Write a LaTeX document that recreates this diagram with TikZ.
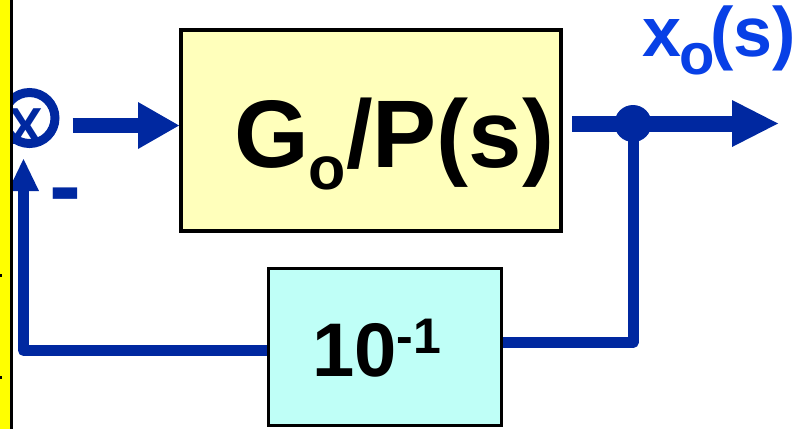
\documentclass[tikz,border=0pt]{standalone}
\usepackage{fontspec}
\setmainfont{Liberation Sans}
\usetikzlibrary{arrows.meta}
\definecolor{flowblue}{RGB}{0,40,160}
\definecolor{labelblue}{RGB}{8,64,230}
\definecolor{plantfill}{RGB}{255,255,187}
\definecolor{gainfill}{RGB}{191,255,247}
\definecolor{stripyellow}{RGB}{255,255,0}
\begin{document}
\begin{tikzpicture}[x=1pt,y=-1pt,
  flow/.style={draw=flowblue, line width=15pt},
  fb/.style={draw=flowblue, line width=11pt, line join=round},
  bigtext/.style={font=\bfseries, inner sep=0pt, anchor=base west},
]
\useasboundingbox (0,0) rectangle (810,429);
\fill[white] (0,0) rectangle (810,429);

% summing junction
\node[draw=flowblue, line width=9pt, circle, inner sep=0pt, minimum size=51pt] (sum) at (29.5,118) {};
\node[inner sep=0pt, anchor=base, text=flowblue, font=\fontsize{52}{52}\selectfont\bfseries] (sumlabel) at (25.5,144) {X};

% forward block
\node[draw=black, line width=4pt, fill=plantfill, inner sep=0pt,
      minimum width=380pt, minimum height=201pt] (plant) at (371,130.5) {};
\node[bigtext, font=\fontsize{96}{96}\selectfont\bfseries] (plantlabel) at (234,167)
  {G\raisebox{-22pt}{\fontsize{61}{61}\selectfont o}/P(s)};

% feedback block
\node[draw=black, line width=3pt, fill=gainfill, inner sep=0pt,
      minimum width=233pt, minimum height=157pt] (gain) at (385,347) {};
\node[bigtext, font=\fontsize{76}{76}\selectfont\bfseries] (gainlabel) at (312,376)
  {10\raisebox{23pt}{\fontsize{50}{50}\selectfont -1}};

% branch point and output end
\coordinate (branch) at (633,123.5);
\coordinate (xout) at (778,123.5);
\node[bigtext, text=labelblue, font=\fontsize{70}{70}\selectfont\bfseries] (outlabel) at (642,56)
  {x\kern-2pt\raisebox{-18pt}{\fontsize{58}{58}\selectfont o}\kern-4pt(s)};

% minus sign at the feedback input
\node[bigtext, text=flowblue, font=\fontsize{96}{96}\selectfont\bfseries] (minus) at (49,218) {-};

% connectors
\draw[flow, -{Triangle[length=41pt,width=47pt,line width=0pt]}, shorten <=13pt]
  ([yshift=-7.5pt]sum.east) -- ([yshift=-7.5pt]sum.east -| plant.west);
\draw[flow, line width=16pt, -{Triangle[length=46pt,width=47pt,line width=0pt]}, shorten <=9pt]
  (plant.east |- branch) -- (xout);
\draw[fb] (branch) |- ([yshift=4.5pt]gain.east);
\draw[fb, -{Triangle[length=32pt,width=31pt,line width=0pt]}, shorten >=11pt]
  ([yshift=-3.5pt]gain.west) -| ([xshift=-6pt]sum.south);
\node[circle, fill=flowblue, minimum size=37pt, inner sep=0pt] (tap) at (branch) {};

% margin strip
\fill[stripyellow] (0,0) rectangle (10,429);
\fill[black] (10,0) rectangle (13,429);
\fill[black] (0,274) rectangle (2,277);
\fill[black] (0,376) rectangle (2,379);
\end{tikzpicture}
\end{document}
